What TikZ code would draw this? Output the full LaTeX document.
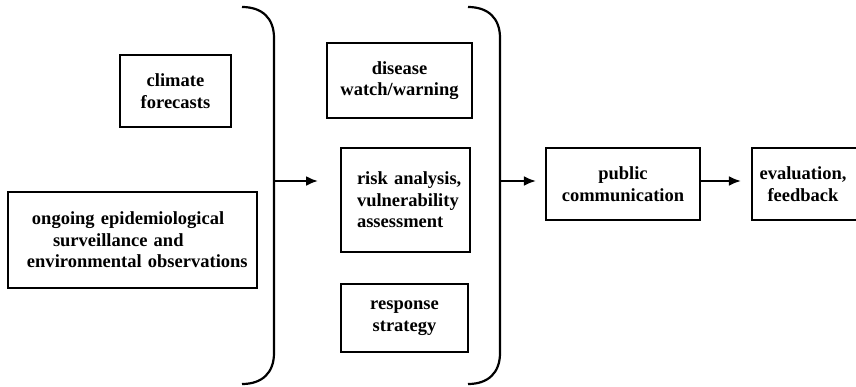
\documentclass[tikz,border=0pt]{standalone}
\usepackage{fontspec}
\setmainfont{Liberation Serif}
\usetikzlibrary{arrows.meta}
\begin{document}
\begin{tikzpicture}[x=1pt,y=-1pt,
  box/.style={draw, line width=2.2pt, font=\fontsize{18.5}{21.5}\selectfont\bfseries, align=center, inner sep=0pt},
  arr/.style={line width=2.2pt, -{Latex[length=12pt,width=10pt]}},
  bracepath/.style={line width=2.2pt}]
\useasboundingbox (0,0) rectangle (856,386);

% left column
\node[box, minimum width=111pt, minimum height=72pt] (clim) at (175.5,91) {climate\\forecasts};
\node[box, minimum width=249pt, minimum height=96pt, text width=249pt, align=left] (epi) at (132.5,240)
  {\hspace*{24pt}ongoing epidemiological\\\hspace*{45pt}surveillance and\\\hspace*{19pt}environmental observations};

% middle column
\node[box, minimum width=145pt, minimum height=75pt] (dis) at (399.5,80.5) {disease\\watch/warning};
\node[box, minimum width=129pt, minimum height=104pt, text width=129pt, align=left] (risk) at (405.5,200)
  {\hspace*{16pt}risk analysis,\\\hspace*{16pt}vulnerability\\\hspace*{16pt}assessment};
\node[box, minimum width=127pt, minimum height=68pt] (resp) at (404.5,318) {response\\strategy};

% right
\node[box, minimum width=154pt, minimum height=72pt] (pub) at (623,184) {public\\communication};
\node[box, minimum width=108pt, minimum height=72pt] (eval) at (806,184) {evaluation,\hspace*{6pt}\\feedback\hspace*{6pt}};

% braces
\coordinate (b1t) at (242,7);
\coordinate (b1b) at (242,384);
\coordinate (b1m) at (274,181);
\coordinate (a1) at (318,181);
\draw[bracepath] (b1t) .. controls (262,7) and (274,18) .. (274,38) -- (274,353)
  .. controls (274,373) and (262,384) .. (b1b);

\coordinate (b2t) at (468,7);
\coordinate (b2b) at (468,384);
\coordinate (b2m) at (500,181);
\draw[bracepath] (b2t) .. controls (488,7) and (500,18) .. (500,38) -- (500,353)
  .. controls (500,373) and (488,384) .. (b2b);

% arrows
\draw[arr] (b1m) -- (a1);
\draw[arr, shorten >=9pt] (b2m) -- (b2m -| pub.west);
\draw[arr, shorten >=10pt] (pub.east |- b2m) -- (eval.west |- b2m);
\end{tikzpicture}
\end{document}
